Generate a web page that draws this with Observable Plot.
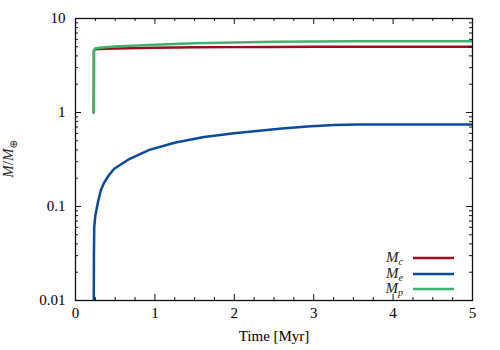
<!DOCTYPE html>
<html><head><meta charset="utf-8">
<script src="https://cdn.jsdelivr.net/npm/d3@7"></script>
<script src="https://cdn.jsdelivr.net/npm/@observablehq/plot@0.6"></script>
<style>body{margin:0;background:#fff}</style>
</head><body><div id="chart"></div><script>
// ---- data ----
const seriesKeys = ["Mc", "Me", "Mp"];
const seriesSubs = ["c", "e", "p"];
const seriesColors = ["#9c0d1e", "#0b4a9b", "#3db36e"];

const mcTime = [0.23, 0.232, 0.25, 0.3, 0.5, 1.0, 1.5, 2.0, 2.5, 3.0, 3.5, 5.0];
const mcMass = [1.0, 4.6, 4.72, 4.75, 4.8, 4.87, 4.93, 4.96, 4.99, 5.01, 5.02, 5.02];

const meTime = [0.23, 0.232, 0.236, 0.25, 0.287, 0.32, 0.362, 0.42, 0.488, 0.677, 0.93, 1.26, 1.62, 2.0, 2.25, 2.6, 2.92, 3.25, 3.55, 5.0];
const meMass = [0.01, 0.03, 0.06, 0.08, 0.116, 0.15, 0.18, 0.215, 0.252, 0.32, 0.40, 0.48, 0.55, 0.60, 0.63, 0.675, 0.71, 0.735, 0.745, 0.745];

const mpTime = [0.23, 0.232, 0.25, 0.3, 0.5, 1.0, 1.5, 2.0, 2.5, 3.0, 3.5, 5.0];
const mpMass = [1.0, 4.65, 4.8, 4.88, 5.05, 5.27, 5.46, 5.56, 5.65, 5.71, 5.74, 5.74];

const xTickValues = [0, 1, 2, 3, 4, 5];
const xMinorValues = [0.25, 0.5, 0.75, 1.25, 1.5, 1.75, 2.25, 2.5, 2.75, 3.25, 3.5, 3.75, 4.25, 4.5, 4.75];
const yTickValues = [0.01, 0.1, 1, 10];
const yTickLabels = ["0.01", "0.1", "1", "10"];
const yMinorMult = [2, 3, 4, 5, 6, 7, 8, 9];
const yDecades = [0.01, 0.1, 1];
const xLabel = "Time [Myr]";

// ---- build ----
const rows = [];
const add = (key, ts, ms) => ts.forEach((t, i) => rows.push({series: key, t, m: ms[i]}));
add("Mc", mcTime, mcMass);
add("Me", meTime, meMass);
add("Mp", mpTime, mpMass);
const yMinorValues = yDecades.flatMap(d => yMinorMult.map(k => +(k * d).toPrecision(3)));

const W = 500, H = 350, mL = 75, mR = 28, mT = 18, mB = 50;
const innerH = H - mT - mB, innerW = W - mL - mR;
const major = 6, minor = 3;
const FONT = "Liberation Serif";

const plot = Plot.plot({
  width: W, height: H,
  marginLeft: mL, marginRight: mR, marginTop: mT, marginBottom: mB,
  style: {fontFamily: FONT, fontSize: "15px"},
  x: {domain: [0, 5]},
  y: {type: "log", domain: [0.01, 10]},
  marks: [
    Plot.line(rows, {x: "t", y: "m", z: "series",
      stroke: d => seriesColors[seriesKeys.indexOf(d.series)],
      strokeWidth: 2.5, strokeLinejoin: "miter", clip: true}),
    Plot.ruleX(xTickValues, {x: d => d, insetTop: innerH - major, stroke: "#111", strokeWidth: 1}),
    Plot.ruleX(xTickValues, {x: d => d, insetBottom: innerH - major, stroke: "#111", strokeWidth: 1}),
    Plot.ruleX(xMinorValues, {x: d => d, insetTop: innerH - minor, stroke: "#111", strokeWidth: 1}),
    Plot.ruleX(xMinorValues, {x: d => d, insetBottom: innerH - minor, stroke: "#111", strokeWidth: 1}),
    Plot.ruleY(yTickValues, {y: d => d, insetRight: innerW - major, stroke: "#111", strokeWidth: 1}),
    Plot.ruleY(yTickValues, {y: d => d, insetLeft: innerW - major, stroke: "#111", strokeWidth: 1}),
    Plot.ruleY(yMinorValues, {y: d => d, insetRight: innerW - minor, stroke: "#111", strokeWidth: 1}),
    Plot.ruleY(yMinorValues, {y: d => d, insetLeft: innerW - minor, stroke: "#111", strokeWidth: 1}),
    Plot.axisX(xTickValues, {tickSize: 0, tickPadding: 7, tickFormat: d => String(d), label: null, fontSize: 15}),
    Plot.axisY(yTickValues, {tickSize: 0, tickPadding: 10, tickFormat: d => yTickLabels[yTickValues.indexOf(d)], label: null, fontSize: 15}),
    Plot.text([xLabel], {text: d => d, frameAnchor: "bottom", dy: 40, fontSize: 15}),
    Plot.frame({stroke: "#111", strokeWidth: 1.3})
  ]
});
document.getElementById("chart").appendChild(plot);

const svg = d3.select(plot);
const yl = svg.append("text")
  .attr("transform", `translate(${13},${mT + innerH / 2}) rotate(-90)`)
  .attr("text-anchor", "middle")
  .attr("font-family", FONT)
  .attr("font-size", 15)
  .attr("fill", "#222");
yl.append("tspan").attr("font-style", "italic").text("M");
yl.append("tspan").text("/");
yl.append("tspan").attr("font-style", "italic").text("M");
yl.append("tspan").attr("font-family", "DejaVu Sans").attr("font-size", 10).attr("dy", 4).text("⊕");

const lineR = W - mR - 18, lineL = lineR - 41, textR = lineL - 10;
const rowY = [H - mB - 42, H - mB - 26, H - mB - 11];
seriesKeys.forEach((k, i) => {
  const g = svg.append("g");
  g.append("line").attr("x1", lineL).attr("x2", lineR).attr("y1", rowY[i]).attr("y2", rowY[i])
    .attr("stroke", seriesColors[i]).attr("stroke-width", 2.5);
  const t = g.append("text").attr("x", textR).attr("y", rowY[i] + 4)
    .attr("text-anchor", "end").attr("font-family", FONT)
    .attr("font-size", 15).attr("fill", "#222");
  t.append("tspan").attr("font-style", "italic").text("M");
  t.append("tspan").attr("font-style", "italic").attr("font-size", 10).attr("dy", 3).text(seriesSubs[i]);
});
</script></body></html>
